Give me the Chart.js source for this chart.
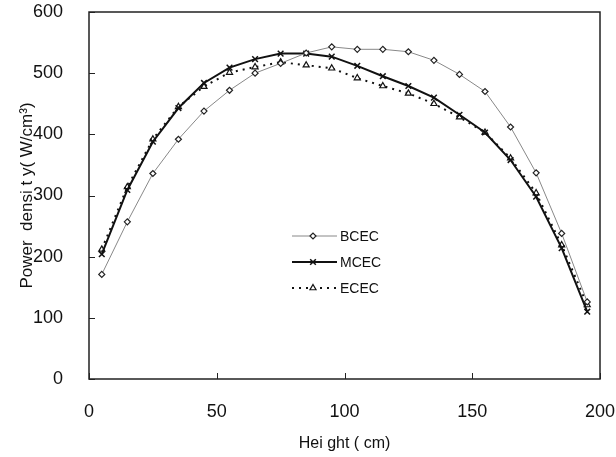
<!DOCTYPE html>
<html>
<head>
<meta charset="utf-8">
<script src="https://cdn.jsdelivr.net/npm/chart.js@4"></script>
<style>
  html, body { margin: 0; padding: 0; background: #fff; }
  #wrap { width: 616px; height: 457px; }
</style>
</head>
<body>
<div id="wrap"><canvas id="powerChart" width="616" height="457"></canvas></div>
<script>
// Data
const heights = [5, 15, 25, 35, 45, 55, 65, 75, 85, 95, 105, 115, 125, 135, 145, 155, 165, 175, 185, 195];
const bcecValues = [171, 257, 336, 392, 438, 472, 500, 516, 533, 543, 539, 539, 535, 521, 498, 470, 412, 337, 238, 126];
const mcecValues = [204, 309, 388, 443, 484, 509, 523, 532, 532, 527, 512, 495, 479, 460, 432, 403, 358, 298, 214, 110];
const ececValues = [212, 314, 392, 445, 478, 501, 510, 518, 513, 508, 492, 479, 467, 450, 428, 403, 361, 304, 219, 121];
const xTicks = [0, 50, 100, 150, 200];
const yTicks = [0, 100, 200, 300, 400, 500, 600];

function toPoints(values) {
  return heights.map((h, i) => ({ x: h, y: values[i] }));
}

// Frame around the plot with small inward tick marks
const framePlugin = {
  id: 'frame',
  afterDraw(chart) {
    const ctx = chart.ctx;
    const a = chart.chartArea;
    const xs = chart.scales.x, ys = chart.scales.y;
    ctx.save();
    ctx.strokeStyle = '#222';
    ctx.lineWidth = 1.5;
    ctx.strokeRect(a.left, a.top, a.right - a.left, a.bottom - a.top);
    ctx.lineWidth = 1;
    ctx.beginPath();
    yTicks.forEach(v => {
      const p = Math.round(ys.getPixelForValue(v)) + 0.5;
      ctx.moveTo(a.left, p);
      ctx.lineTo(a.left + 6, p);
    });
    xTicks.forEach(v => {
      const p = Math.round(xs.getPixelForValue(v)) + 0.5;
      ctx.moveTo(p, a.bottom);
      ctx.lineTo(p, a.bottom - 6);
    });
    ctx.stroke();
    ctx.restore();
  }
};

// Legend drawn inside the plot: line sample + marker + label
const insideLegend = {
  id: 'insideLegend',
  afterDraw(chart) {
    const ctx = chart.ctx;
    const a = chart.chartArea;
    const x0 = a.left + 203, x1 = a.left + 248, xm = a.left + 224;
    let y = a.top + 224;
    ctx.save();
    chart.data.datasets.forEach(ds => {
      ctx.strokeStyle = ds.borderColor;
      ctx.lineWidth = ds.borderWidth;
      ctx.setLineDash(ds.borderDash || []);
      ctx.beginPath();
      ctx.moveTo(x0, y);
      ctx.lineTo(x1, y);
      ctx.stroke();
      ctx.setLineDash([]);
      ctx.strokeStyle = ds.pointBorderColor;
      ctx.fillStyle = ds.pointBackgroundColor;
      ctx.lineWidth = ds.pointBorderWidth;
      Chart.helpers.drawPoint(ctx, { pointStyle: ds.pointStyle, radius: ds.pointRadius, borderWidth: ds.pointBorderWidth }, xm, y);
      ctx.fillStyle = '#111';
      ctx.font = '14px "Liberation Sans", Arial, sans-serif';
      ctx.textBaseline = 'middle';
      ctx.fillText(ds.label, x1 + 3, y + 1);
      y += 26;
    });
    ctx.restore();
  }
};

const ctx = document.getElementById('powerChart').getContext('2d');
new Chart(ctx, {
  type: 'line',
  data: {
    datasets: [
      {
        label: 'BCEC',
        data: toPoints(bcecValues),
        borderColor: '#888',
        borderWidth: 1,
        pointStyle: 'rectRot',
        pointRadius: 3,
        pointBorderColor: '#222',
        pointBackgroundColor: '#fff',
        pointBorderWidth: 1.2,
        tension: 0
      },
      {
        label: 'MCEC',
        data: toPoints(mcecValues),
        borderColor: '#111',
        borderWidth: 2,
        pointStyle: 'crossRot',
        pointRadius: 4,
        pointBorderColor: '#111',
        pointBackgroundColor: '#111',
        pointBorderWidth: 1.5,
        tension: 0
      },
      {
        label: 'ECEC',
        data: toPoints(ececValues),
        borderColor: '#111',
        borderWidth: 2,
        borderDash: [2, 5],
        pointStyle: 'triangle',
        pointRadius: 3.5,
        pointBorderColor: '#111',
        pointBackgroundColor: '#fff',
        pointBorderWidth: 1.2,
        tension: 0
      }
    ]
  },
  options: {
    responsive: false,
    animation: false,
    layout: { padding: { left: 13, right: 16, top: 12, bottom: 0 } },
    plugins: { legend: { display: false }, tooltip: { enabled: false } },
    scales: {
      x: {
        type: 'linear',
        min: 0,
        max: 200,
        afterBuildTicks: s => { s.ticks = xTicks.map(v => ({ value: v })); },
        afterFit: s => { s.height = 78; s.paddingLeft = 0; s.paddingRight = 0; },
        grid: { display: false },
        border: { display: false },
        ticks: {
          color: '#111',
          padding: 14,
          font: { family: '"Liberation Sans", Arial, sans-serif', size: 18 }
        },
        title: {
          display: true,
          text: 'Hei ght ( cm)',
          color: '#111',
          padding: { top: 2 },
          font: { family: '"Liberation Sans", Arial, sans-serif', size: 16 }
        }
      },
      y: {
        min: 0,
        max: 600,
        afterBuildTicks: s => { s.ticks = yTicks.map(v => ({ value: v })); },
        afterFit: s => { s.width = 76; s.paddingTop = 0; s.paddingBottom = 0; },
        grid: { display: false },
        border: { display: false },
        ticks: {
          color: '#111',
          padding: 18,
          font: { family: '"Liberation Sans", Arial, sans-serif', size: 18 }
        },
        title: {
          display: true,
          text: 'Power  densi t y( W/cm³)',
          color: '#111',
          padding: { bottom: 2 },
          font: { family: '"Liberation Sans", Arial, sans-serif', size: 17 }
        }
      }
    }
  },
  plugins: [framePlugin, insideLegend]
});
</script>
</body>
</html>
